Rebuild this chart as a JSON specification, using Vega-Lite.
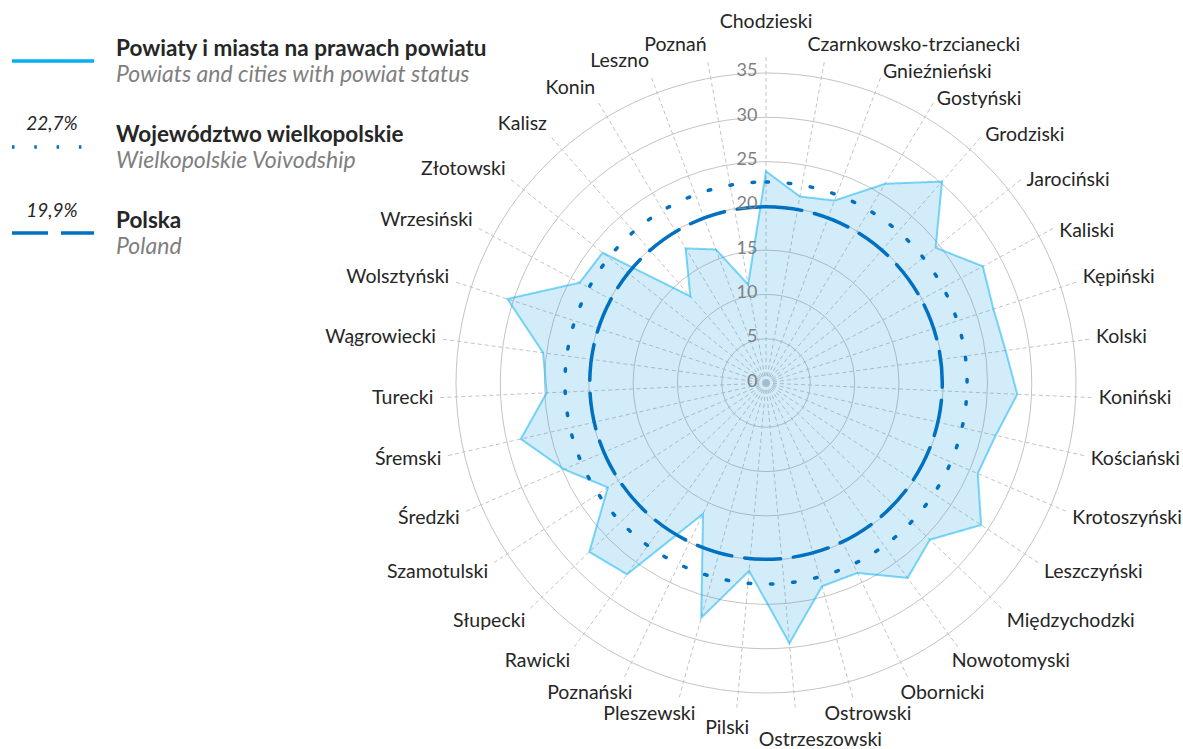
{
  "$schema": "https://vega.github.io/schema/vega-lite/v6.json",
  "width": 1183,
  "height": 749,
  "padding": 0,
  "autosize": {"type": "none"},
  "background": "white",
  "config": {"view": {"stroke": null}, "font": "Lato"},
  "datasets": {
    "powiaty": [
      {"powiat": "Chodzieski", "v": 23.9},
      {"powiat": "Czarnkowsko-trzcianecki", "v": 21.4},
      {"powiat": "Gnieźnieński", "v": 22.0},
      {"powiat": "Gostyński", "v": 26.2},
      {"powiat": "Grodziski", "v": 30.2},
      {"powiat": "Jarociński", "v": 24.5},
      {"powiat": "Kaliski", "v": 27.8},
      {"powiat": "Kępiński", "v": 27.0},
      {"powiat": "Kolski", "v": 27.3},
      {"powiat": "Koniński", "v": 28.4},
      {"powiat": "Kościański", "v": 26.6},
      {"powiat": "Krotoszyński", "v": 26.0},
      {"powiat": "Leszczyński", "v": 29.1},
      {"powiat": "Międzychodzki", "v": 25.6},
      {"powiat": "Nowotomyski", "v": 27.2},
      {"powiat": "Obornicki", "v": 23.8},
      {"powiat": "Ostrowski", "v": 23.8},
      {"powiat": "Ostrzeszowski", "v": 29.5},
      {"powiat": "Pilski", "v": 21.3},
      {"powiat": "Pleszewski", "v": 27.5},
      {"powiat": "Poznański", "v": 16.4},
      {"powiat": "Rawicki", "v": 26.7},
      {"powiat": "Słupecki", "v": 27.6},
      {"powiat": "Szamotulski", "v": 21.4},
      {"powiat": "Średzki", "v": 24.8},
      {"powiat": "Śremski", "v": 28.4},
      {"powiat": "Turecki", "v": 24.8},
      {"powiat": "Wągrowiecki", "v": 25.4},
      {"powiat": "Wolsztyński", "v": 30.7},
      {"powiat": "Wrzesiński", "v": 23.9},
      {"powiat": "Złotowski", "v": 23.6},
      {"powiat": "Kalisz", "v": 13.0},
      {"powiat": "Konin", "v": 17.7},
      {"powiat": "Leszno", "v": 16.1},
      {"powiat": "Poznań", "v": 11.3}
    ],
    "rings": [{"r": 5}, {"r": 10}, {"r": 15}, {"r": 20}, {"r": 25}, {"r": 30}, {"r": 35}],
    "refs": [{"series": "b", "r": 22.7}, {"series": "c", "r": 19.9}]
  },
  "layer": [
    {
      "data": {"name": "rings"},
      "transform": [{"calculate": "0", "as": "c0"}],
      "mark": {"type": "arc", "theta": 0, "theta2": 6.2832, "filled": false, "stroke": "#C4C4C4", "strokeWidth": 1},
      "encoding": {
        "x": {"field": "c0", "type": "quantitative", "scale": {"domain": [-86.49, 47.08], "nice": false, "zero": false}, "axis": null},
        "y": {"field": "c0", "type": "quantitative", "scale": {"domain": [-41.32, 43.24], "nice": false, "zero": false},
          "axis": {"orient": "left", "offset": -757, "values": [0, 5, 10, 15, 20, 25, 30, 35], "domain": false, "ticks": false, "grid": false, "labelFont": "Lato", "labelFontSize": 18, "labelColor": "#7F7F7F", "labelPadding": 0, "title": null, "labelAlign": "right", "labelBaseline": "middle", "labelOffset": -2, "zindex": 1}},
        "radius": {"field": "r", "type": "quantitative", "stack": null, "scale": {"type": "linear", "domain": [0, 35], "range": [0, 310], "zero": true, "nice": false}}
      }
    },
    {
      "data": {"name": "powiaty"},
      "transform": [
        {"window": [{"op": "row_number", "as": "i"}]},
        {"calculate": "'a'", "as": "series"},
        {"calculate": "0", "as": "c0"},
        {"calculate": "(datum.i - 1) * 2 * PI / 35", "as": "a"},
        {"calculate": "datum.v * sin(datum.a)", "as": "px"},
        {"calculate": "datum.v * cos(datum.a)", "as": "py"},
        {"calculate": "37 * sin(datum.a)", "as": "sx"},
        {"calculate": "37 * cos(datum.a)", "as": "sy"}
      ],
      "layer": [
        {
          "mark": {"type": "rule", "stroke": "#C4C4C4", "strokeWidth": 1, "strokeDash": [4, 3]},
          "encoding": {
            "x": {"field": "c0", "type": "quantitative", "scale": {"domain": [-86.49, 47.08], "nice": false, "zero": false}, "axis": null},
            "y": {"field": "c0", "type": "quantitative", "scale": {"domain": [-41.32, 43.24], "nice": false, "zero": false},
              "axis": {"orient": "left", "offset": -757, "values": [0, 5, 10, 15, 20, 25, 30, 35], "domain": false, "ticks": false, "grid": false, "labelFont": "Lato", "labelFontSize": 18, "labelColor": "#7F7F7F", "labelPadding": 0, "title": null, "labelAlign": "right", "labelBaseline": "middle", "labelOffset": -2, "zindex": 1}},
            "x2": {"field": "sx"},
            "y2": {"field": "sy"}
          }
        },
        {
          "mark": {"type": "line", "interpolate": "linear-closed", "fill": "#1EA0E6", "fillOpacity": 0.2, "strokeWidth": 2, "strokeOpacity": 0.5},
          "encoding": {
            "x": {"field": "px", "type": "quantitative", "scale": {"domain": [-86.49, 47.08], "nice": false, "zero": false}, "axis": null},
            "y": {"field": "py", "type": "quantitative", "scale": {"domain": [-41.32, 43.24], "nice": false, "zero": false},
              "axis": {"orient": "left", "offset": -757, "values": [0, 5, 10, 15, 20, 25, 30, 35], "domain": false, "ticks": false, "grid": false, "labelFont": "Lato", "labelFontSize": 18, "labelColor": "#7F7F7F", "labelPadding": 0, "title": null, "labelAlign": "right", "labelBaseline": "middle", "labelOffset": -2, "zindex": 1}},
            "order": {"field": "i", "type": "quantitative"},
            "stroke": {"field": "series", "type": "nominal", "scale": {"domain": ["a", "b", "c"], "range": ["#00B0F0", "#0070C0", "#0070C0"]},
              "legend": {"orient": "none", "legendX": 10, "legendY": 18, "title": null, "padding": 0, "symbolType": "stroke", "symbolSize": 6724, "symbolStrokeWidth": 3.5, "rowPadding": 36, "labelOffset": 20, "labelFont": "Lato", "labelFontSize": 22.5, "labelFontWeight": "bold", "labelColor": "#262626", "labelLimit": 0, "labelBaseline": "bottom",
                "labelExpr": "datum.value == 'a' ? 'Powiaty i miasta na prawach powiatu' : datum.value == 'b' ? 'Województwo wielkopolskie' : 'Polska'"}},
            "strokeDash": {"field": "series", "type": "nominal", "scale": {"domain": ["a", "b", "c"], "range": [[1, 0], [2.5, 19.8], [36, 13]]},
              "legend": {"orient": "none", "legendX": 10, "legendY": 18, "title": null, "padding": 0, "symbolType": "stroke", "symbolSize": 6724, "symbolStrokeWidth": 3.5, "rowPadding": 36, "labelOffset": 20, "labelFont": "Lato", "labelFontSize": 22.5, "labelFontWeight": "bold", "labelColor": "#262626", "labelLimit": 0, "labelBaseline": "bottom",
                "labelExpr": "datum.value == 'a' ? 'Powiaty i miasta na prawach powiatu' : datum.value == 'b' ? 'Województwo wielkopolskie' : 'Polska'"}}
          }
        }
      ]
    },
    {
      "data": {"name": "refs"},
      "transform": [{"calculate": "0", "as": "c0"}],
      "encoding": {
        "x": {"field": "c0", "type": "quantitative", "scale": {"domain": [-86.49, 47.08], "nice": false, "zero": false}, "axis": null},
        "y": {"field": "c0", "type": "quantitative", "scale": {"domain": [-41.32, 43.24], "nice": false, "zero": false},
          "axis": {"orient": "left", "offset": -757, "values": [0, 5, 10, 15, 20, 25, 30, 35], "domain": false, "ticks": false, "grid": false, "labelFont": "Lato", "labelFontSize": 18, "labelColor": "#7F7F7F", "labelPadding": 0, "title": null, "labelAlign": "right", "labelBaseline": "middle", "labelOffset": -2, "zindex": 1}},
        "radius": {"field": "r", "type": "quantitative", "stack": null, "scale": {"type": "linear", "domain": [0, 35], "range": [0, 310], "zero": true, "nice": false}},
        "stroke": {"field": "series", "type": "nominal", "scale": {"domain": ["a", "b", "c"], "range": ["#00B0F0", "#0070C0", "#0070C0"]},
          "legend": {"orient": "none", "legendX": 10, "legendY": 18, "title": null, "padding": 0, "symbolType": "stroke", "symbolSize": 6724, "symbolStrokeWidth": 3.5, "rowPadding": 36, "labelOffset": 20, "labelFont": "Lato", "labelFontSize": 22.5, "labelFontWeight": "bold", "labelColor": "#262626", "labelLimit": 0, "labelBaseline": "bottom",
            "labelExpr": "datum.value == 'a' ? 'Powiaty i miasta na prawach powiatu' : datum.value == 'b' ? 'Województwo wielkopolskie' : 'Polska'"}},
        "strokeWidth": {"field": "series", "type": "nominal", "scale": {"domain": ["a", "b", "c", "y"], "range": [3.5, 3.5]},
          "legend": {"orient": "none", "legendX": 10, "legendY": 32, "title": null, "padding": 0, "values": ["a", "b", "c"], "symbolType": "stroke", "symbolSize": 6724, "symbolStrokeWidth": 3.5, "symbolOpacity": 0, "symbolStrokeColor": "transparent", "rowPadding": 31, "labelOffset": 20, "labelFont": "Lato", "labelFontSize": 23, "labelFontStyle": "italic", "labelColor": "#7F7F7F", "labelLimit": 0,
            "labelExpr": "datum.value == 'a' ? 'Powiats and cities with powiat status' : datum.value == 'b' ? 'Wielkopolskie Voivodship' : 'Poland'"}},
        "opacity": {"field": "series", "type": "nominal", "scale": {"domain": ["a", "b", "c", "z"], "range": [1, 1]},
          "legend": {"orient": "none", "legendX": 10, "legendY": -6, "title": null, "padding": 0, "values": ["a", "b", "c"], "symbolType": "stroke", "symbolSize": 6724, "symbolStrokeWidth": 3.5, "symbolOpacity": 0, "symbolStrokeColor": "transparent", "rowPadding": 34, "labelOffset": -44, "labelAlign": "center", "labelFont": "Lato", "labelFontSize": 19, "labelFontStyle": "italic", "labelColor": "#262626", "labelLimit": 0,
            "labelExpr": "datum.value == 'b' ? '22,7%' : datum.value == 'c' ? '19,9%' : ''"}}
      },
      "layer": [
        {"transform": [{"filter": "datum.series == 'b'"}], "mark": {"type": "arc", "theta": 0, "theta2": 6.2832, "filled": false, "strokeCap": "round", "strokeDash": [2.5, 19.8]}},
        {"transform": [{"filter": "datum.series == 'c'"}], "mark": {"type": "arc", "theta": 0, "theta2": 6.2832, "filled": false, "strokeCap": "round", "strokeDash": [36, 13]}}
      ]
    },
    {
      "data": {"name": "powiaty"},
      "transform": [
        {"window": [{"op": "row_number", "as": "i"}]},
        {"calculate": "(datum.i - 1) * 2 * PI / 35", "as": "a"},
        {"calculate": "37.6 * sin(datum.a)", "as": "lx"},
        {"calculate": "38.8 * cos(datum.a)", "as": "ly"}
      ],
      "encoding": {
        "x": {"field": "lx", "type": "quantitative", "scale": {"domain": [-86.49, 47.08], "nice": false, "zero": false}, "axis": null},
        "y": {"field": "ly", "type": "quantitative", "scale": {"domain": [-41.32, 43.24], "nice": false, "zero": false},
          "axis": {"orient": "left", "offset": -757, "values": [0, 5, 10, 15, 20, 25, 30, 35], "domain": false, "ticks": false, "grid": false, "labelFont": "Lato", "labelFontSize": 18, "labelColor": "#7F7F7F", "labelPadding": 0, "title": null, "labelAlign": "right", "labelBaseline": "middle", "labelOffset": -2, "zindex": 1}},
        "text": {"field": "powiat", "type": "nominal"}
      },
      "layer": [
        {"transform": [{"filter": "datum.i == 1"}], "mark": {"type": "text", "align": "center", "baseline": "middle", "dy": -17, "font": "Lato", "fontSize": 19.5, "fill": "#262626"}},
        {"transform": [{"filter": "datum.i == 2"}], "mark": {"type": "text", "align": "left", "baseline": "middle", "dx": -18, "font": "Lato", "fontSize": 19.5, "fill": "#262626"}},
        {"transform": [{"filter": "datum.i >= 3 && datum.i <= 7"}], "mark": {"type": "text", "align": "left", "baseline": "middle", "dy": 11, "font": "Lato", "fontSize": 19.5, "fill": "#262626"}},
        {"transform": [{"filter": "datum.i >= 8 && datum.i <= 14"}], "mark": {"type": "text", "align": "left", "baseline": "middle", "font": "Lato", "fontSize": 19.5, "fill": "#262626"}},
        {"transform": [{"filter": "datum.i >= 15 && datum.i <= 16"}], "mark": {"type": "text", "align": "left", "baseline": "middle", "dx": -10, "font": "Lato", "fontSize": 19.5, "fill": "#262626"}},
        {"transform": [{"filter": "datum.i == 17"}], "mark": {"type": "text", "align": "left", "baseline": "middle", "dx": -30, "font": "Lato", "fontSize": 19.5, "fill": "#262626"}},
        {"transform": [{"filter": "datum.i == 18"}], "mark": {"type": "text", "align": "left", "baseline": "middle", "dx": -37, "dy": 15, "font": "Lato", "fontSize": 19.5, "fill": "#262626"}},
        {"transform": [{"filter": "datum.i == 19"}], "mark": {"type": "text", "align": "right", "baseline": "middle", "dx": 13, "dy": 3, "font": "Lato", "fontSize": 19.5, "fill": "#262626"}},
        {"transform": [{"filter": "datum.i == 20"}], "mark": {"type": "text", "align": "right", "baseline": "middle", "dx": 18, "font": "Lato", "fontSize": 19.5, "fill": "#262626"}},
        {"transform": [{"filter": "datum.i == 21"}], "mark": {"type": "text", "align": "right", "baseline": "middle", "dx": 11, "font": "Lato", "fontSize": 19.5, "fill": "#262626"}},
        {"transform": [{"filter": "datum.i >= 22"}], "mark": {"type": "text", "align": "right", "baseline": "middle", "font": "Lato", "fontSize": 19.5, "fill": "#262626"}}
      ]
    }
  ]
}
